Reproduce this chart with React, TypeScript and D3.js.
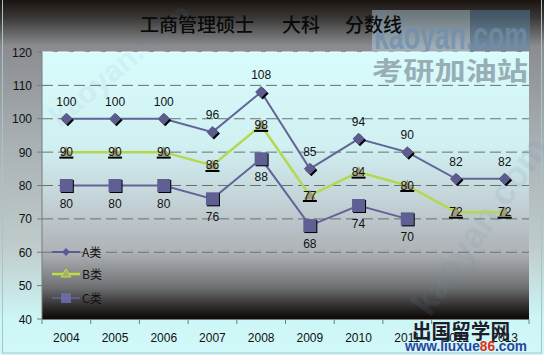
import React from "react";
import * as d3 from "d3";

const years = ["2004", "2005", "2006", "2007", "2008", "2009", "2010", "2011", "2012", "2013"];
const seriesA = [100, 100, 100, 96, 108, 85, 94, 90, 82, 82];
const seriesB = [90, 90, 90, 86, 98, 77, 84, 80, 72, 72];
const seriesC = [80, 80, 80, 76, 88, 68, 74, 70];
const yTicks = [40, 50, 60, 70, 80, 90, 100, 110, 120];
const legendNames = ["A类", "B类", "C类"];
const titleParts = ["工商管理硕士", "大科", "分数线"];

const W = 544, H = 355;
const PL = 42, PR = 529, PT = 52, PB = 319;
const numFont = "'Liberation Sans', Arial, sans-serif";
const cjkFont = "'Noto Sans CJK SC', sans-serif";

export default function App() {
  const x = d3.scaleBand<string>().domain(years).range([PL, PR]);
  const y = d3.scaleLinear().domain([40, 120]).range([PB, PT]);
  const cx = (i: number) => (x(years[i]) as number) + x.bandwidth() / 2;
  const line = d3.line<number>().x((_, i) => cx(i)).y((d) => y(d));
  const lineColor = "#646498";
  const greenColor = "#b4d850";

  const diamond = (px: number, py: number, r: number) =>
    `M${px},${py - r}L${px + r},${py}L${px},${py + r}L${px - r},${py}Z`;

  return (
    <svg width={W} height={H} style={{ position: "absolute", left: 0, top: 0 }}>
      <defs>
        <linearGradient id="outer" x1="0" y1="0" x2="0" y2="1">
          <stop offset="0" stopColor="#1a1410" />
          <stop offset="0.05" stopColor="#3a3836" />
          <stop offset="0.13" stopColor="#8a8c90" />
          <stop offset="0.4" stopColor="#a8b0b4" />
          <stop offset="0.7" stopColor="#c0cccc" />
          <stop offset="0.9" stopColor="#cdf6f6" />
          <stop offset="1" stopColor="#d2f9f9" />
        </linearGradient>
        <linearGradient id="plot" x1="0" y1="0" x2="0" y2="1">
          <stop offset="0" stopColor="#d8fcfc" />
          <stop offset="0.35" stopColor="#d0f0f2" />
          <stop offset="0.55" stopColor="#c4d4d8" />
          <stop offset="0.75" stopColor="#aeb2b6" />
          <stop offset="0.88" stopColor="#707274" />
          <stop offset="0.96" stopColor="#2a2626" />
          <stop offset="1" stopColor="#0e0808" />
        </linearGradient>
      </defs>
      <rect x={0} y={0} width={W} height={H} fill="url(#outer)" />
      <rect x={2.5} y={-2} width={539} height={355} fill="none" stroke="#a8c4c4" strokeWidth={1} />

      {/* watermark top right */}
      <rect x={372} y={10} width={98} height={42} fill="#b8d4e4" opacity={0.45} />
      <rect x={470} y={10} width={60} height={42} fill="#5c88a8" opacity={0.45} />
      <text x={374} y={49} fontFamily={numFont} fontWeight="bold" fontSize={38} fill="#6f8fae" opacity={0.75} textLength={154} lengthAdjust="spacingAndGlyphs">kaoyan.com</text>

      {/* plot area */}
      <rect x={PL} y={PT} width={PR - PL} height={PB - PT} fill="url(#plot)" />
      <text x={372} y={80} fontFamily={cjkFont} fontWeight="bold" fontSize={25} fill="#98aeb4" textLength={156} lengthAdjust="spacingAndGlyphs">考研加油站</text>
      <text x={0} y={0} transform="translate(430,318) rotate(-55)" fontFamily={numFont} fontWeight="bold" fontSize={36} fill="#6a8cb0" opacity={0.12}>kaoyan.com</text>
      <text x={0} y={0} transform="translate(60,128) rotate(-40)" fontFamily={numFont} fontWeight="bold" fontSize={30} fill="#6a8cb0" opacity={0.07}>kaoyan.com</text>

      {/* grid */}
      {yTicks.filter((t) => t > 40).map((t) => (
        <line key={t} x1={PL} x2={PR} y1={y(t)} y2={y(t)}
          stroke={t === 120 ? "#f4ffff" : "#6c7070"} strokeWidth={1} strokeDasharray="11,5" />
      ))}

      {/* axes */}
      <line x1={PL} x2={PL} y1={PT} y2={PB} stroke="#7a7a7a" />
      <line x1={PL} x2={PR} y1={PB + 0.5} y2={PB + 0.5} stroke="#7a7a7a" />
      {yTicks.map((t) => (
        <g key={t}>
          <line x1={PL - 5} x2={PL} y1={y(t)} y2={y(t)} stroke="#7a7a7a" />
          <text x={32} y={y(t) + 4.5} textAnchor="end" fontFamily={numFont} fontSize={12} fill="#111">{t}</text>
        </g>
      ))}
      {years.map((yr, i) => (
        <g key={yr}>
          <line x1={x(yr) as number} x2={x(yr) as number} y1={PB} y2={PB + 5} stroke="#7a7a7a" />
          <text x={cx(i)} y={342} textAnchor="middle" fontFamily={numFont} fontSize={12} fill="#111">{yr}</text>
        </g>
      ))}
      <line x1={PR} x2={PR} y1={PB} y2={PB + 5} stroke="#7a7a7a" />

      {/* lines */}
      <path d={line(seriesA) as string} fill="none" stroke={lineColor} strokeWidth={2} />
      <path d={line(seriesB) as string} fill="none" stroke={greenColor} strokeWidth={2.5} />
      <path d={line(seriesC) as string} fill="none" stroke={lineColor} strokeWidth={2} />

      {/* C markers */}
      {seriesC.map((v, i) => (
        <g key={"c" + i}>
          <rect x={cx(i) - 5.5} y={y(v) - 5.5} width={13} height={13} fill="#000" />
          <rect x={cx(i) - 6.5} y={y(v) - 6.5} width={13} height={13} fill="#5f5f94" />
          <text x={cx(i)} y={y(v) + 22} textAnchor="middle" fontFamily={numFont} fontSize={12} fill="#111">{v}</text>
        </g>
      ))}
      {/* A markers */}
      {seriesA.map((v, i) => (
        <g key={"a" + i}>
          <path d={diamond(cx(i) + 1.5, y(v) + 1.5, 6)} fill="#000" />
          <path d={diamond(cx(i), y(v), 6)} fill="#5c5c8e" />
          <text x={cx(i)} y={y(v) - 13} textAnchor="middle" fontFamily={numFont} fontSize={12} fill="#111">{v}</text>
        </g>
      ))}
      {/* B markers */}
      {seriesB.map((v, i) => (
        <g key={"b" + i}>
          <path d={`M${cx(i)},${y(v) - 6}L${cx(i) + 6},${y(v) + 4}L${cx(i) - 6},${y(v) + 4}Z`} fill="#a0a078" />
          <line x1={cx(i) - 7} x2={cx(i) + 7} y1={y(v) + 5.5} y2={y(v) + 5.5} stroke="#000" strokeWidth={2} />
          <text x={cx(i)} y={y(v) + 4} textAnchor="middle" fontFamily={numFont} fontSize={12} fill="#111">{v}</text>
        </g>
      ))}

      {/* legend */}
      {legendNames.map((n, k) => {
        const ly = [252, 274, 298][k];
        return (
          <g key={n}>
            {k === 0 && (
              <>
                <line x1={52} x2={80} y1={ly} y2={ly} stroke="#5a5a98" strokeWidth={2} />
                <path d={diamond(66, ly, 4)} fill="#5a5a98" />
              </>
            )}
            {k === 1 && (
              <>
                <line x1={52} x2={80} y1={ly} y2={ly} stroke="#b8e040" strokeWidth={2.5} />
                <path d={`M66,${ly - 5}L71,${ly + 3}L61,${ly + 3}Z`} fill="#a8b070" stroke="#c0e040" strokeWidth={1} />
              </>
            )}
            {k === 2 && (
              <>
                <line x1={52} x2={80} y1={ly} y2={ly} stroke="#6a6aa6" strokeWidth={2} opacity={0.6} />
                <rect x={61} y={ly - 5} width={10} height={10} fill="#6e6eb0" opacity={0.85} />
              </>
            )}
            <text x={82} y={ly + 4.5} fontFamily={cjkFont} fontSize={12} fill="#111">{n}</text>
          </g>
        );
      })}

      {/* title */}
      <text y={32} fontFamily={cjkFont} fontSize={19} fontWeight={500} fill="#0a0a0a">
        <tspan x={140}>{titleParts[0]}</tspan>
        <tspan x={282}>{titleParts[1]}</tspan>
        <tspan x={345}>{titleParts[2]}</tspan>
      </text>

      {/* bottom watermark */}
      <text x={412} y={339} fontFamily={cjkFont} fontWeight="bold" fontSize={20} fill="#1e1e2a" textLength={98} lengthAdjust="spacingAndGlyphs">出国留学网</text>
      <text x={405} y={351} fontFamily={numFont} fontWeight="bold" fontSize={14} textLength={122} lengthAdjust="spacingAndGlyphs">
        <tspan fill="#2a44a0">www.liuxue</tspan><tspan fill="#e03020">86</tspan><tspan fill="#2a44a0">.com</tspan>
      </text>
    </svg>
  );
}
